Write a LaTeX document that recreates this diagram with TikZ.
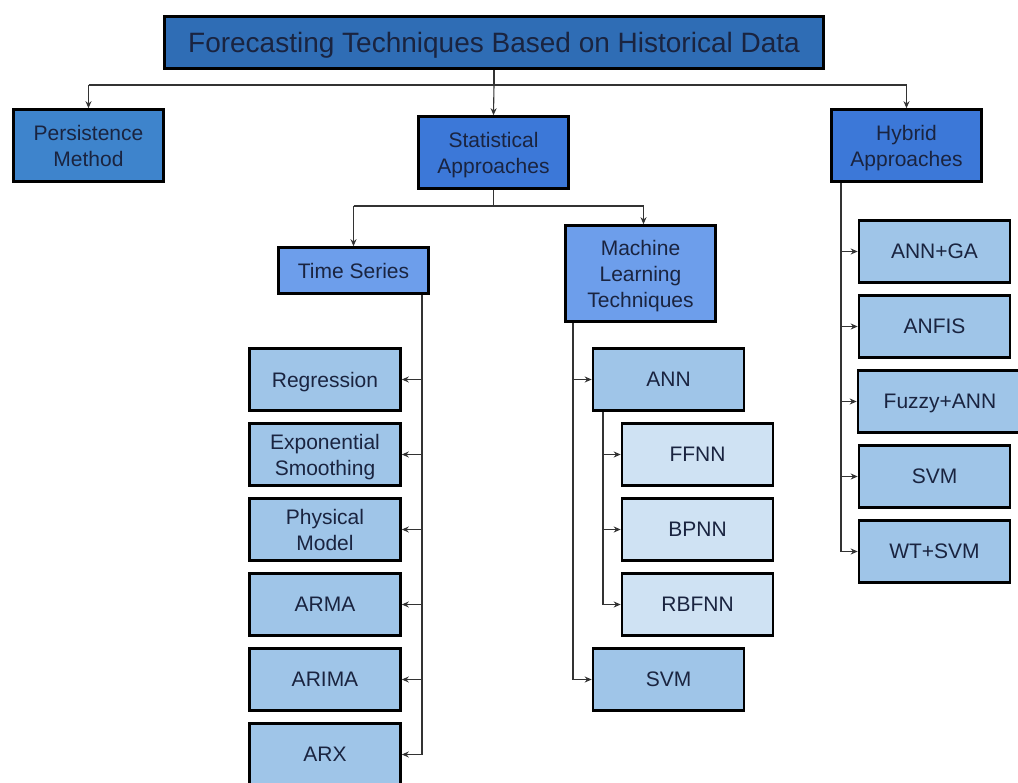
\documentclass[tikz,border=0pt]{standalone}
\usepackage{fontspec}
\setmainfont{Liberation Sans}
\usetikzlibrary{arrows.meta,calc}
\definecolor{cTitle}{HTML}{2F6DB5}
\definecolor{cPers}{HTML}{3E84CC}
\definecolor{cMain}{HTML}{3C78D8}
\definecolor{cSub}{HTML}{6D9EEB}
\definecolor{cLeaf}{HTML}{9FC5E8}
\definecolor{cLeafL}{HTML}{CFE2F3}
\definecolor{cText}{HTML}{1A2440}
\definecolor{cLine}{HTML}{333333}
\tikzset{
  box/.style={draw=black, line width=2.6pt, text=cText, align=center, inner sep=0pt,
    text depth=0pt, font=\fontsize{21}{26}\selectfont},
  multi/.style={text depth=-7pt},
  titlebox/.style={box, fill=cTitle, minimum width=659pt, minimum height=52pt,
    font=\fontsize{28}{32}\selectfont},
  mainbox/.style={box, multi, fill=cMain, minimum width=150pt, minimum height=72pt},
  persbox/.style={mainbox, fill=cPers},
  subbox/.style={box, fill=cSub, minimum width=150pt},
  leafbox/.style={box, fill=cLeaf, minimum width=151pt, minimum height=62pt},
  leaflbox/.style={leafbox, fill=cLeafL},
  ln/.style={draw=cLine, line width=1.1pt},
  arr/.style={ln, -{Stealth[length=7pt,width=6pt]}}
}
\begin{document}
\begin{tikzpicture}[x=1pt,y=-1pt]
\useasboundingbox (0,0) rectangle (1018,783);
\fill[white] (0,0) rectangle (1018,783);
% top
\node[titlebox] (title) at (494,42.5) {Forecasting Techniques Based on Historical Data};
\node[persbox] (pers) at (88.5,145.5) {Persistence\\Method};
\node[mainbox] (stat) at (493.5,152.5) {Statistical\\Approaches};
\node[mainbox] (hyb) at (906.5,145.5) {Hybrid\\Approaches};
% second level
\node[subbox, minimum height=46pt] (ts) at (353.5,270.5) {Time Series};
\node[subbox, multi, minimum height=96pt] (ml) at (640.5,273.5) {Machine\\Learning\\Techniques};
% time series leaves
\node[leafbox] (reg) at (325,379.5) {Regression};
\node[leafbox, multi] (exp) at (325,454.5) {Exponential\\Smoothing};
\node[leafbox, multi] (phy) at (325,529.5) {Physical\\Model};
\node[leafbox] (arma) at (325,604.5) {ARMA};
\node[leafbox] (arima) at (325,679.5) {ARIMA};
\node[leafbox] (arx) at (325,754.5) {ARX};
% ML leaves
\node[leafbox] (ann) at (668.5,379.5) {ANN};
\node[leaflbox] (ffnn) at (697.5,454.5) {FFNN};
\node[leaflbox] (bpnn) at (697.5,529.5) {BPNN};
\node[leaflbox] (rbfnn) at (697.5,604.5) {RBFNN};
\node[leafbox] (svm) at (668.5,679.5) {SVM};
% hybrid leaves
\node[leafbox] (annga) at (934.5,251.5) {ANN+GA};
\node[leafbox] (anfis) at (934.5,326.5) {ANFIS};
\node[leafbox, minimum width=164pt] (fuzzy) at (940,401.5) {Fuzzy+ANN};
\node[leafbox] (hsvm) at (934.5,476.5) {SVM};
\node[leafbox] (wtsvm) at (934.5,551.5) {WT+SVM};
% bus coordinates
\coordinate (bus1) at (0,85);
\coordinate (bus2) at (0,206);
\coordinate (tsx) at (422,0);
\coordinate (mlx) at (573,0);
\coordinate (annx) at (603,0);
\coordinate (hybx) at (841,0);
% level 1
\draw[ln] (title.south) -- (title.south |- bus1);
\draw[ln] (pers.north |- bus1) -- (hyb.north |- bus1);
\draw[arr] (pers.north |- bus1) -- (pers.north);
\draw[arr] (title.south |- bus1) -- (stat.north);
\draw[arr] (hyb.north |- bus1) -- (hyb.north);
% statistical
\draw[ln] (stat.south) -- (stat.south |- bus2);
\draw[ln] (ts.north |- bus2) -- ($(ml.north |- bus2)+(3,0)$);
\draw[arr] (ts.north |- bus2) -- (ts.north);
\draw[arr] ($(ml.north |- bus2)+(3,0)$) -- ($(ml.north)+(3,0)$);
% time series
\draw[ln] (tsx |- ts.south) -- (tsx |- arx.east);
\foreach \n in {reg,exp,phy,arma,arima,arx}
  \draw[arr] (tsx |- \n.east) -- (\n.east);
% ML
\draw[ln] (mlx |- ml.south) -- (mlx |- svm.west);
\draw[arr] (mlx |- ann.west) -- (ann.west);
\draw[arr] (mlx |- svm.west) -- (svm.west);
\draw[ln] (annx |- ann.south) -- (annx |- rbfnn.west);
\foreach \n in {ffnn,bpnn,rbfnn}
  \draw[arr] (annx |- \n.west) -- (\n.west);
% hybrid
\draw[ln] (hybx |- hyb.south) -- (hybx |- wtsvm.west);
\foreach \n in {annga,anfis,fuzzy,hsvm,wtsvm}
  \draw[arr] (hybx |- \n.west) -- (\n.west);
\end{tikzpicture}
\end{document}
